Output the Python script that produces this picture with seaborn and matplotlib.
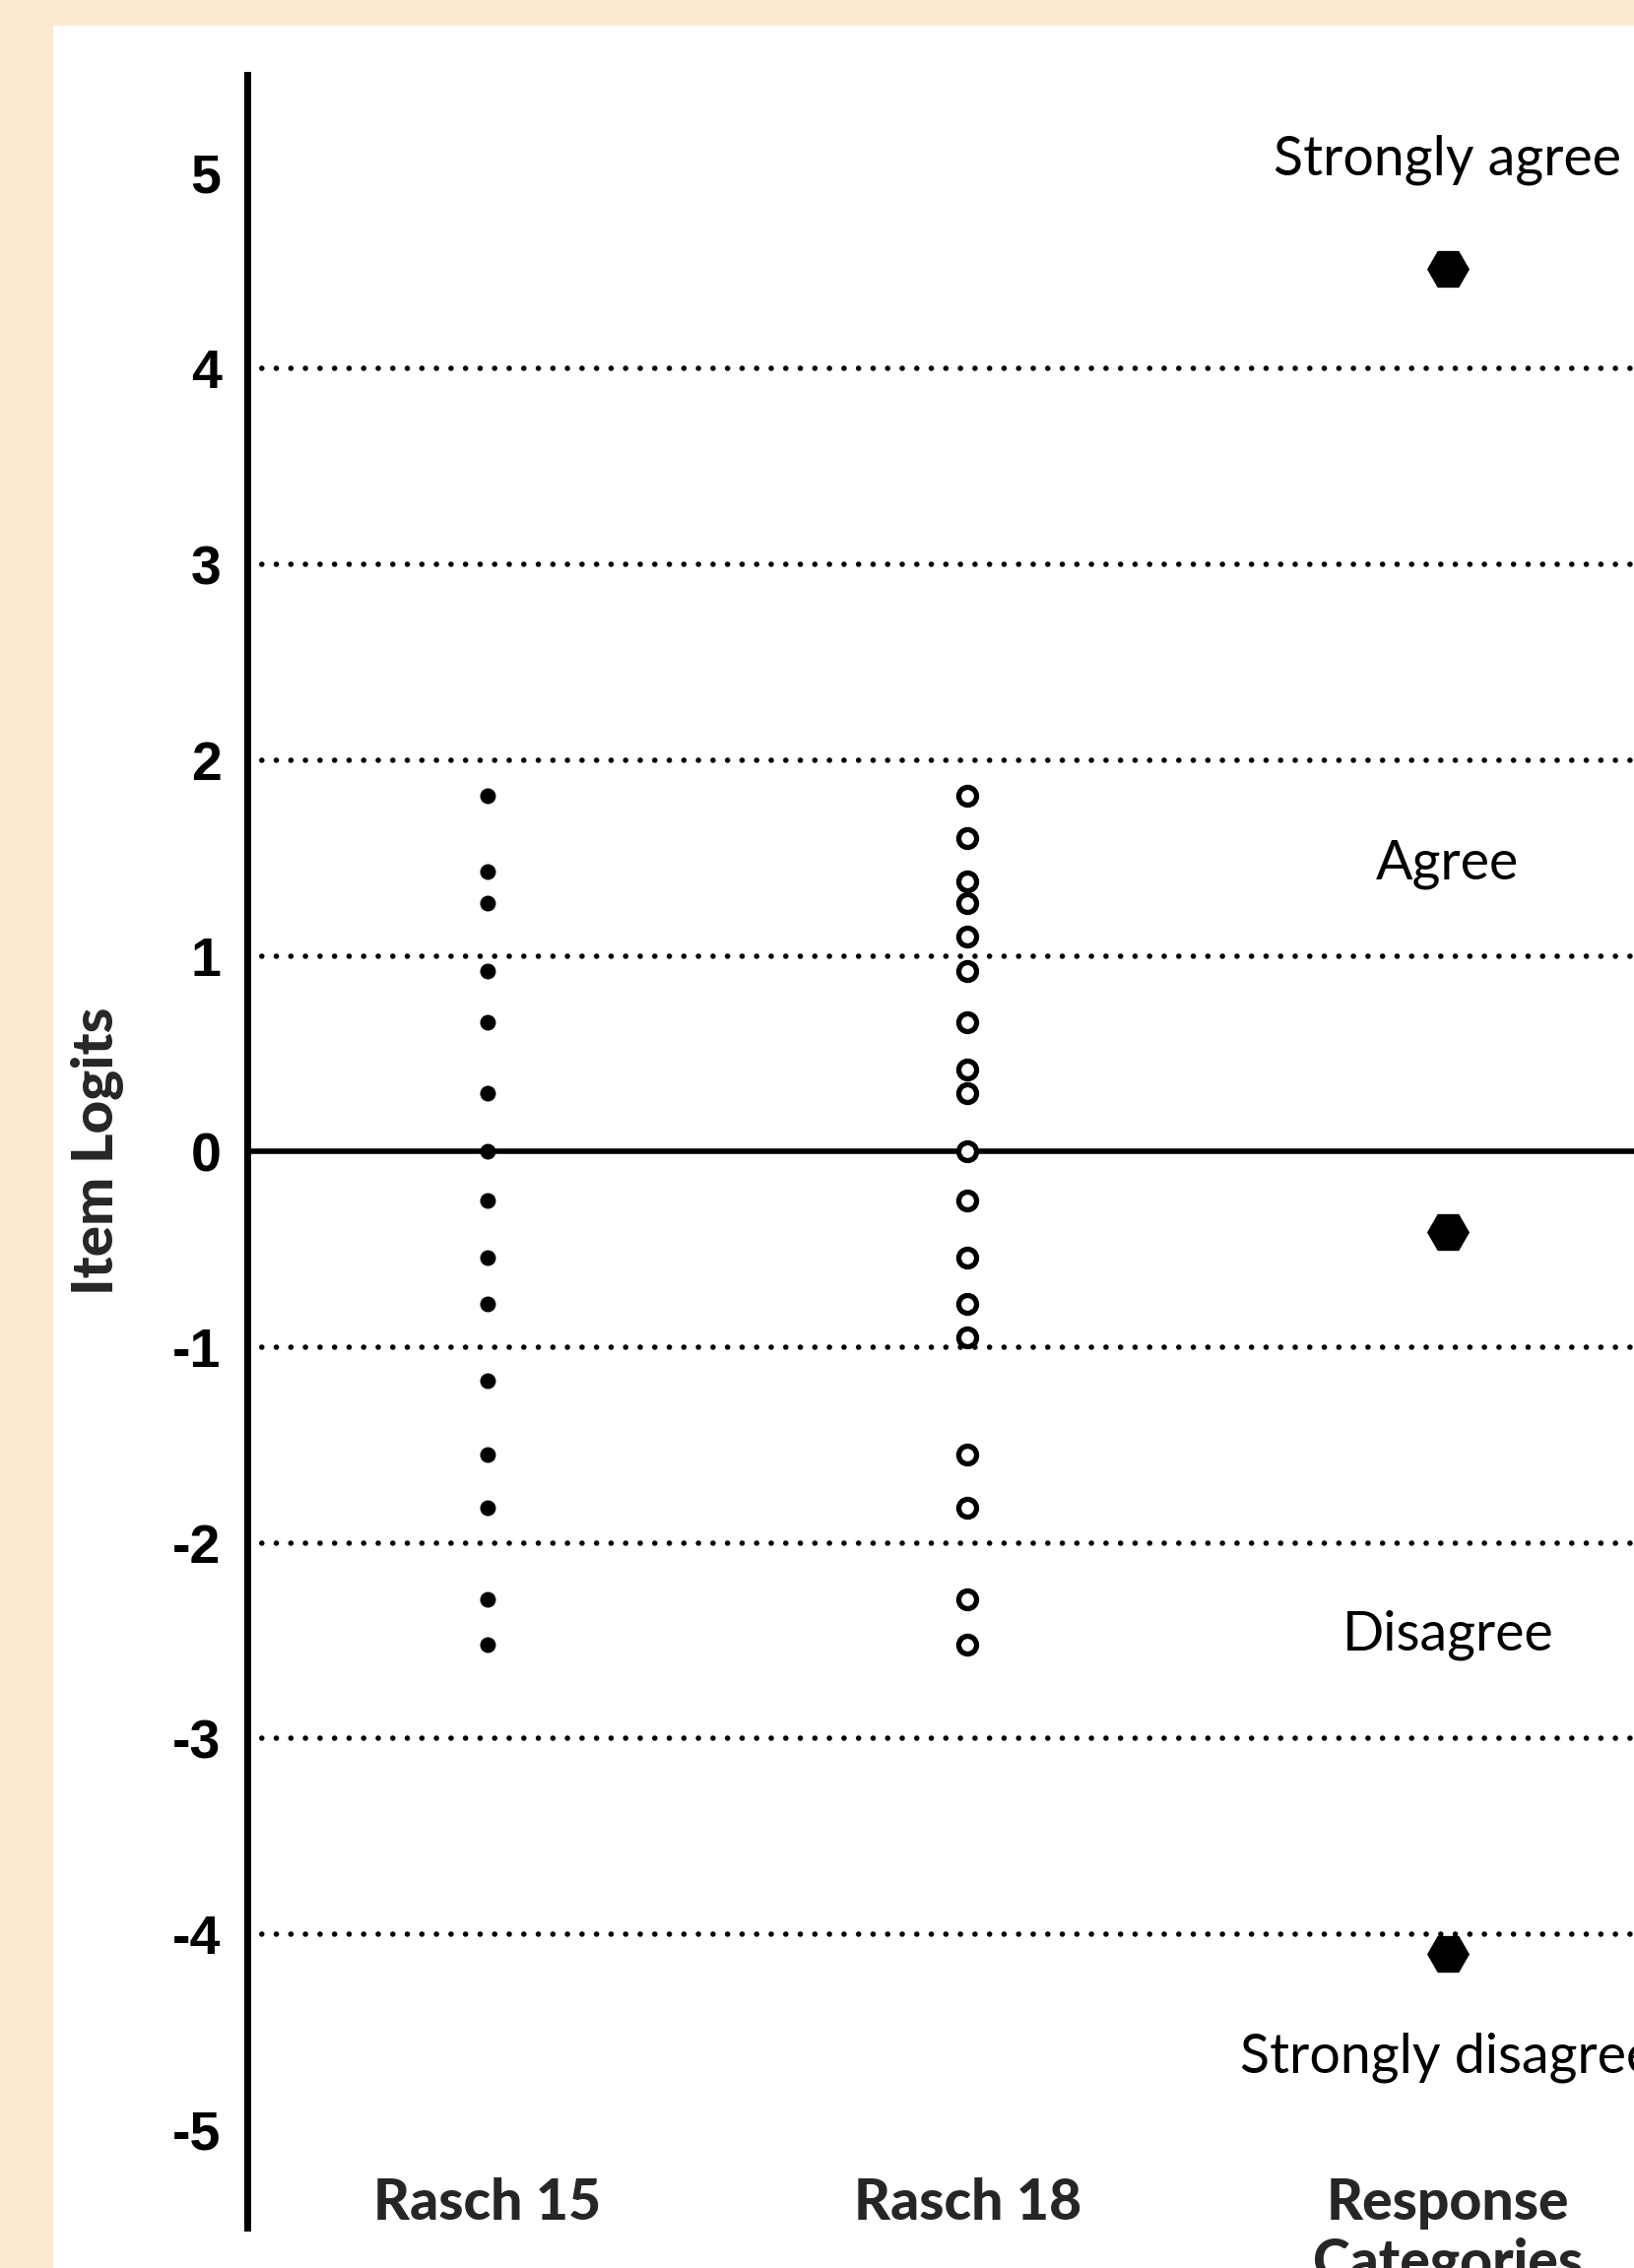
import pandas as pd
import matplotlib
matplotlib.use("Agg")
import matplotlib.pyplot as plt
from matplotlib.patches import Rectangle
import seaborn as sns

# groups on the x axis
groups = ["Rasch 15", "Rasch 18", "Response\nCategories"]

# item logits
rasch15 = [1.82, 1.43, 1.27, 0.92, 0.66, 0.30, 0.0, -0.25, -0.54, -0.78,
           -1.17, -1.55, -1.82, -2.29, -2.52]
rasch18 = [1.82, 1.60, 1.38, 1.27, 1.10, 0.92, 0.66, 0.42, 0.30, 0.0,
           -0.25, -0.54, -0.78, -0.95, -1.55, -1.82, -2.29, -2.52]
thresholds = [4.51, -0.41, -4.10]

category_labels = ["Strongly agree", "Agree", "Disagree", "Strongly disagree"]
category_label_y = [5.07, 1.47, -2.47, -4.63]

grid_levels = [-4, -3, -2, -1, 1, 2, 3, 4]
yticks = [-5, -4, -3, -2, -1, 0, 1, 2, 3, 4, 5]

df15 = pd.DataFrame({"group": groups[0], "logit": rasch15})
df18 = pd.DataFrame({"group": groups[1], "logit": rasch18})
dfrc = pd.DataFrame({"group": groups[2], "logit": thresholds})

sns.set_style("white")
plt.rcParams["font.family"] = ["Lato", "DejaVu Sans"]
plt.rcParams["axes.unicode_minus"] = False

fig = plt.figure(figsize=(16.59, 23.03), dpi=100)
fig.patch.set_facecolor("#FDE8D0")
fig.patches.append(Rectangle((54 / 1659, 0), 1, 1 - 26 / 2303,
                             transform=fig.transFigure, facecolor="white",
                             edgecolor="none", zorder=-10))

ax = fig.add_axes([0.1513, 0.0178, 0.8816, 0.949])
ax.set_zorder(5)
ax.patch.set_alpha(0)

# grid lines
for lvl in grid_levels:
    ax.axhline(lvl, color="black", lw=4.0, linestyle=(0, (0.01, 2.65)),
               dash_capstyle="round", zorder=1)
ax.axhline(0, color="black", lw=4.0, zorder=2)

sns.stripplot(data=df15, x="group", y="logit", order=groups, jitter=False,
              color="black", size=11.5, linewidth=0, ax=ax, zorder=3)
sns.stripplot(data=df18, x="group", y="logit", order=groups, jitter=False,
              color="white", edgecolor="black", linewidth=3.8, size=13,
              ax=ax, zorder=3)
sns.stripplot(data=dfrc, x="group", y="logit", order=groups, jitter=False,
              marker="H", color="black", size=31, linewidth=0, ax=ax, zorder=3)

for lab, yv in zip(category_labels, category_label_y):
    ax.text(2, yv, lab, ha="center", va="center", fontsize=40, color="black")

ax.set_xlim(-0.5, 2.5)
ax.set_ylim(-5.5, 5.5)

sns.despine(ax=ax, top=True, right=True, bottom=True)
ax.spines["left"].set_linewidth(5)
ax.spines["left"].set_color("black")

ax.set_yticks(yticks, labels=[str(v) for v in yticks], fontsize=40,
              fontweight="bold", family=["Liberation Sans", "DejaVu Sans"])
ax.tick_params(axis="y", length=9, width=5, direction="out", pad=10, colors="black")
ax.set_xticks(range(len(groups)), labels=groups, fontsize=41, fontweight=900)
ax.tick_params(axis="x", length=0, pad=-37)

ax.set_xlabel("")
ax.set_ylabel("Item Logits", fontsize=42, fontweight=900)
ax.yaxis.set_label_coords(-0.0855, 0.5)

fig.savefig("out.png", dpi=100, facecolor=fig.get_facecolor())
